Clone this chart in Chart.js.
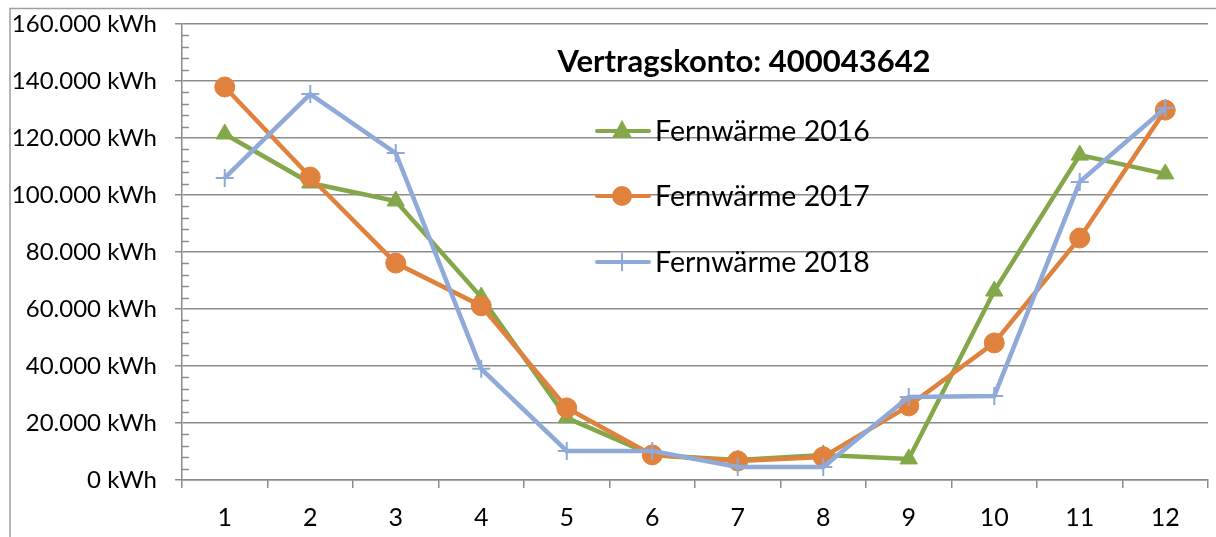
<!DOCTYPE html>
<html>
<head>
<meta charset="utf-8">
<script src="https://cdn.jsdelivr.net/npm/chart.js@4/dist/chart.umd.min.js"></script>
<style>
    html, body { margin: 0; padding: 0; background: #fff; overflow: hidden; }
</style>
</head>
<body>
<canvas id="chart" width="1219" height="537"></canvas>
<script>
const months = ['1', '2', '3', '4', '5', '6', '7', '8', '9', '10', '11', '12'];
const heat2016 = [121400, 104200, 97900, 64200, 21800, 8800, 7000, 8800, 7400, 66300, 114000, 107400];
const heat2017 = [137900, 106300, 76100, 61100, 25300, 8800, 6700, 8100, 26000, 48100, 84900, 129800];
const heat2018 = [106000, 135400, 114700, 39000, 10200, 10200, 4600, 4600, 29100, 29500, 104600, 130500];
const chartTitle = 'Vertragskonto: 400043642';

const GRID = '#8c8c8c';
const FONT = 'Lato, "Open Sans", sans-serif';

// frame, title, legend and minor ticks drawn by hand
const decorations = {
    id: 'decorations',
    beforeDraw(chart) {
        const ctx = chart.ctx;
        ctx.save();
        ctx.strokeStyle = '#a0a0a0';
        ctx.lineWidth = 1.5;
        ctx.beginPath();
        ctx.moveTo(10, chart.height);
        ctx.lineTo(10, 8.5);
        ctx.lineTo(chart.width, 8.5);
        ctx.stroke();
        ctx.restore();
    },
    afterDraw(chart) {
        const ctx = chart.ctx;
        const y = chart.scales.y;
        const left = chart.chartArea.left;
        ctx.save();
        ctx.strokeStyle = GRID;
        ctx.lineWidth = 1.5;
        for (let v = 4000; v < 160000; v += 4000) {
            if (v % 20000 === 0) continue;
            const py = Math.round(y.getPixelForValue(v)) + 0.5;
            ctx.beginPath();
            ctx.moveTo(left, py);
            ctx.lineTo(left + 7, py);
            ctx.stroke();
        }

        ctx.fillStyle = '#000';
        ctx.font = 'bold 31px ' + FONT;
        ctx.textAlign = 'center';
        ctx.textBaseline = 'middle';
        ctx.fillText(chartTitle, 744, 62);

        const rows = [131, 196, 262];
        chart.data.datasets.forEach((ds, i) => {
            const cy = rows[i];
            ctx.strokeStyle = ds.borderColor;
            ctx.lineWidth = 4;
            ctx.lineCap = 'round';
            ctx.beginPath();
            ctx.moveTo(597, cy);
            ctx.lineTo(649, cy);
            ctx.stroke();
            ctx.lineCap = 'butt';
            ctx.fillStyle = ds.borderColor;
            ctx.lineWidth = ds.pointBorderWidth;
            ctx.beginPath();
            if (ds.pointStyle === 'circle') {
                ctx.arc(622, cy, 10, 0, Math.PI * 2);
                ctx.fill();
            } else if (ds.pointStyle === 'triangle') {
                ctx.moveTo(622, cy - 11);
                ctx.lineTo(632, cy + 7);
                ctx.lineTo(612, cy + 7);
                ctx.closePath();
                ctx.fill();
            } else {
                ctx.moveTo(622, cy - 9);
                ctx.lineTo(622, cy + 9);
                ctx.stroke();
            }
            ctx.fillStyle = '#000';
            ctx.font = '28.5px ' + FONT;
            ctx.textAlign = 'left';
            ctx.fillText(ds.label, 655, cy + 1);
        });
        ctx.restore();
    }
};

const config = {
    type: 'line',
    data: {
        labels: months,
        datasets: [
            {
                label: 'Fernwärme 2016',
                data: heat2016,
                borderColor: '#84a74a',
                backgroundColor: '#84a74a',
                borderWidth: 4.5,
                pointStyle: 'triangle',
                pointRadius: 10,
                pointBorderWidth: 1,
                tension: 0,
                order: 2
            },
            {
                label: 'Fernwärme 2017',
                data: heat2017,
                borderColor: '#e0823d',
                backgroundColor: '#e0823d',
                borderWidth: 4.5,
                pointStyle: 'circle',
                pointRadius: 10,
                pointBorderWidth: 1,
                tension: 0,
                order: 1
            },
            {
                label: 'Fernwärme 2018',
                data: heat2018,
                borderColor: '#8faad8',
                backgroundColor: '#8faad8',
                borderWidth: 4.5,
                pointStyle: 'cross',
                pointRadius: 9,
                pointBorderWidth: 2,
                tension: 0,
                order: 0
            }
        ]
    },
    options: {
        responsive: false,
        animation: false,
        layout: {
            padding: { top: 24, left: 10, right: 0, bottom: 0 }
        },
        plugins: {
            legend: { display: false },
            title: { display: false },
            tooltip: { enabled: false }
        },
        scales: {
            x: {
                offset: true,
                grid: {
                    offset: true,
                    drawOnChartArea: false,
                    tickLength: 8,
                    color: GRID,
                    lineWidth: 1.5
                },
                border: { display: true, color: GRID, width: 1.5 },
                ticks: {
                    color: '#000',
                    font: { family: FONT, size: 25 },
                    padding: 15,
                    maxRotation: 0
                },
                afterFit: (scale) => { scale.height = 57; }
            },
            y: {
                min: 0,
                max: 160000,
                grid: {
                    color: GRID,
                    lineWidth: 1.5,
                    tickLength: 7
                },
                border: { display: true, color: GRID, width: 1.5 },
                ticks: {
                    stepSize: 20000,
                    color: '#000',
                    font: { family: FONT, size: 24 },
                    padding: 18,
                    callback: (v) => v.toLocaleString('de-DE') + ' kWh'
                },
                afterFit: (scale) => {
                    scale.width = 172;
                    scale.paddingTop = 0;
                    scale.paddingBottom = 0;
                }
            }
        }
    },
    plugins: [decorations]
};

const chart = new Chart(document.getElementById('chart'), config);
</script>
</body>
</html>
